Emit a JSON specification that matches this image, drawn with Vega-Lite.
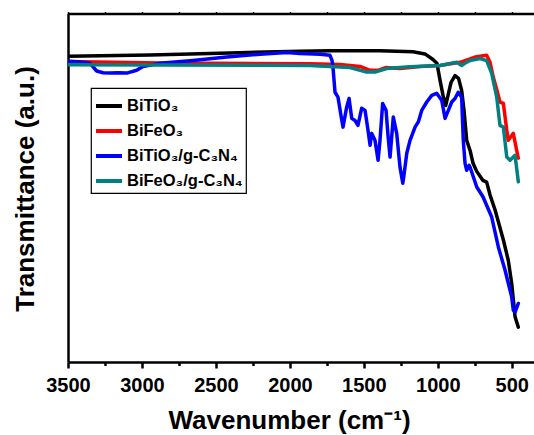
{
  "$schema": "https://vega.github.io/schema/vega-lite/v6.json",
  "width": 466,
  "height": 348.5,
  "autosize": {"type": "none"},
  "padding": {"left": 68, "top": 13.5, "right": 0, "bottom": 73},
  "background": "white",
  "config": {
    "view": {"stroke": null},
    "font": "Liberation Sans",
    "legend": {
      "orient": "none",
      "legendX": 23,
      "legendY": 74.5,
      "strokeColor": "black",
      "strokeWidth": 1.2,
      "fillColor": "white",
      "padding": 3,
      "symbolType": "stroke",
      "symbolSize": 676,
      "symbolStrokeWidth": 4,
      "labelFont": "Liberation Sans",
      "labelFontWeight": "bold",
      "labelFontSize": 16.5,
      "labelColor": "black",
      "labelOffset": 3,
      "labelLimit": 0,
      "rowPadding": 1
    }
  },
  "data": {
    "values": [
      {"s": "BiTiO₃", "wn": 3500, "t": 87.7},
      {"s": "BiTiO₃", "wn": 2946, "t": 88.1},
      {"s": "BiTiO₃", "wn": 2405, "t": 88.7},
      {"s": "BiTiO₃", "wn": 1932, "t": 89.2},
      {"s": "BiTiO₃", "wn": 1729, "t": 89.3},
      {"s": "BiTiO₃", "wn": 1391, "t": 89.3},
      {"s": "BiTiO₃", "wn": 1168, "t": 89.0},
      {"s": "BiTiO₃", "wn": 1087, "t": 88.4},
      {"s": "BiTiO₃", "wn": 1033, "t": 86.8},
      {"s": "BiTiO₃", "wn": 1006, "t": 85.7},
      {"s": "BiTiO₃", "wn": 985, "t": 80.8},
      {"s": "BiTiO₃", "wn": 965, "t": 76.5},
      {"s": "BiTiO₃", "wn": 947, "t": 73.6},
      {"s": "BiTiO₃", "wn": 931, "t": 76.5},
      {"s": "BiTiO₃", "wn": 911, "t": 80.2},
      {"s": "BiTiO₃", "wn": 884, "t": 82.2},
      {"s": "BiTiO₃", "wn": 860, "t": 81.4},
      {"s": "BiTiO₃", "wn": 839, "t": 77.9},
      {"s": "BiTiO₃", "wn": 823, "t": 72.2},
      {"s": "BiTiO₃", "wn": 805, "t": 63.6},
      {"s": "BiTiO₃", "wn": 782, "t": 60.7},
      {"s": "BiTiO₃", "wn": 762, "t": 57.0},
      {"s": "BiTiO₃", "wn": 737, "t": 54.7},
      {"s": "BiTiO₃", "wn": 695, "t": 52.1},
      {"s": "BiTiO₃", "wn": 670, "t": 51.6},
      {"s": "BiTiO₃", "wn": 647, "t": 47.9},
      {"s": "BiTiO₃", "wn": 613, "t": 43.6},
      {"s": "BiTiO₃", "wn": 557, "t": 35.0},
      {"s": "BiTiO₃", "wn": 524, "t": 29.2},
      {"s": "BiTiO₃", "wn": 501, "t": 22.6},
      {"s": "BiTiO₃", "wn": 478, "t": 13.0},
      {"s": "BiTiO₃", "wn": 456, "t": 10.0},

      {"s": "BiFeO₃", "wn": 3500, "t": 86.2},
      {"s": "BiFeO₃", "wn": 2878, "t": 85.8},
      {"s": "BiFeO₃", "wn": 1864, "t": 85.6},
      {"s": "BiFeO₃", "wn": 1661, "t": 85.4},
      {"s": "BiFeO₃", "wn": 1526, "t": 84.8},
      {"s": "BiFeO₃", "wn": 1458, "t": 83.7},
      {"s": "BiFeO₃", "wn": 1404, "t": 83.7},
      {"s": "BiFeO₃", "wn": 1350, "t": 84.5},
      {"s": "BiFeO₃", "wn": 1256, "t": 84.2},
      {"s": "BiFeO₃", "wn": 1120, "t": 84.8},
      {"s": "BiFeO₃", "wn": 985, "t": 85.1},
      {"s": "BiFeO₃", "wn": 850, "t": 86.0},
      {"s": "BiFeO₃", "wn": 749, "t": 87.5},
      {"s": "BiFeO₃", "wn": 670, "t": 88.0},
      {"s": "BiFeO₃", "wn": 647, "t": 86.0},
      {"s": "BiFeO₃", "wn": 625, "t": 81.7},
      {"s": "BiFeO₃", "wn": 600, "t": 77.9},
      {"s": "BiFeO₃", "wn": 580, "t": 74.6},
      {"s": "BiFeO₃", "wn": 557, "t": 74.2},
      {"s": "BiFeO₃", "wn": 534, "t": 66.5},
      {"s": "BiFeO₃", "wn": 524, "t": 63.6},
      {"s": "BiFeO₃", "wn": 509, "t": 64.5},
      {"s": "BiFeO₃", "wn": 490, "t": 65.6},
      {"s": "BiFeO₃", "wn": 467, "t": 60.7},
      {"s": "BiFeO₃", "wn": 456, "t": 58.5},

      {"s": "BiTiO₃/g-C₃N₄", "wn": 3500, "t": 86.3},
      {"s": "BiTiO₃/g-C₃N₄", "wn": 3419, "t": 86.1},
      {"s": "BiTiO₃/g-C₃N₄", "wn": 3351, "t": 85.7},
      {"s": "BiTiO₃/g-C₃N₄", "wn": 3306, "t": 83.5},
      {"s": "BiTiO₃/g-C₃N₄", "wn": 3263, "t": 83.0},
      {"s": "BiTiO₃/g-C₃N₄", "wn": 3216, "t": 82.9},
      {"s": "BiTiO₃/g-C₃N₄", "wn": 3162, "t": 83.0},
      {"s": "BiTiO₃/g-C₃N₄", "wn": 3103, "t": 82.9},
      {"s": "BiTiO₃/g-C₃N₄", "wn": 3036, "t": 83.7},
      {"s": "BiTiO₃/g-C₃N₄", "wn": 2993, "t": 84.8},
      {"s": "BiTiO₃/g-C₃N₄", "wn": 2878, "t": 85.7},
      {"s": "BiTiO₃/g-C₃N₄", "wn": 2655, "t": 86.5},
      {"s": "BiTiO₃/g-C₃N₄", "wn": 2427, "t": 87.5},
      {"s": "BiTiO₃/g-C₃N₄", "wn": 2202, "t": 88.3},
      {"s": "BiTiO₃/g-C₃N₄", "wn": 2020, "t": 88.8},
      {"s": "BiTiO₃/g-C₃N₄", "wn": 1932, "t": 88.5},
      {"s": "BiTiO₃/g-C₃N₄", "wn": 1796, "t": 88.3},
      {"s": "BiTiO₃/g-C₃N₄", "wn": 1729, "t": 88.0},
      {"s": "BiTiO₃/g-C₃N₄", "wn": 1715, "t": 86.5},
      {"s": "BiTiO₃/g-C₃N₄", "wn": 1709, "t": 84.6},
      {"s": "BiTiO₃/g-C₃N₄", "wn": 1695, "t": 77.4},
      {"s": "BiTiO₃/g-C₃N₄", "wn": 1675, "t": 76.0},
      {"s": "BiTiO₃/g-C₃N₄", "wn": 1655, "t": 70.8},
      {"s": "BiTiO₃/g-C₃N₄", "wn": 1641, "t": 67.4},
      {"s": "BiTiO₃/g-C₃N₄", "wn": 1616, "t": 73.2},
      {"s": "BiTiO₃/g-C₃N₄", "wn": 1600, "t": 75.6},
      {"s": "BiTiO₃/g-C₃N₄", "wn": 1582, "t": 69.9},
      {"s": "BiTiO₃/g-C₃N₄", "wn": 1560, "t": 69.3},
      {"s": "BiTiO₃/g-C₃N₄", "wn": 1540, "t": 67.9},
      {"s": "BiTiO₃/g-C₃N₄", "wn": 1515, "t": 72.8},
      {"s": "BiTiO₃/g-C₃N₄", "wn": 1492, "t": 72.2},
      {"s": "BiTiO₃/g-C₃N₄", "wn": 1472, "t": 66.5},
      {"s": "BiTiO₃/g-C₃N₄", "wn": 1458, "t": 62.2},
      {"s": "BiTiO₃/g-C₃N₄", "wn": 1447, "t": 65.6},
      {"s": "BiTiO₃/g-C₃N₄", "wn": 1425, "t": 63.6},
      {"s": "BiTiO₃/g-C₃N₄", "wn": 1404, "t": 57.9},
      {"s": "BiTiO₃/g-C₃N₄", "wn": 1391, "t": 63.6},
      {"s": "BiTiO₃/g-C₃N₄", "wn": 1373, "t": 74.2},
      {"s": "BiTiO₃/g-C₃N₄", "wn": 1350, "t": 72.2},
      {"s": "BiTiO₃/g-C₃N₄", "wn": 1337, "t": 65.0},
      {"s": "BiTiO₃/g-C₃N₄", "wn": 1323, "t": 58.8},
      {"s": "BiTiO₃/g-C₃N₄", "wn": 1301, "t": 70.3},
      {"s": "BiTiO₃/g-C₃N₄", "wn": 1278, "t": 65.6},
      {"s": "BiTiO₃/g-C₃N₄", "wn": 1256, "t": 56.0},
      {"s": "BiTiO₃/g-C₃N₄", "wn": 1237, "t": 51.3},
      {"s": "BiTiO₃/g-C₃N₄", "wn": 1229, "t": 53.6},
      {"s": "BiTiO₃/g-C₃N₄", "wn": 1210, "t": 59.9},
      {"s": "BiTiO₃/g-C₃N₄", "wn": 1188, "t": 63.6},
      {"s": "BiTiO₃/g-C₃N₄", "wn": 1154, "t": 67.4},
      {"s": "BiTiO₃/g-C₃N₄", "wn": 1132, "t": 68.9},
      {"s": "BiTiO₃/g-C₃N₄", "wn": 1109, "t": 72.2},
      {"s": "BiTiO₃/g-C₃N₄", "wn": 1075, "t": 74.6},
      {"s": "BiTiO₃/g-C₃N₄", "wn": 1041, "t": 76.5},
      {"s": "BiTiO₃/g-C₃N₄", "wn": 1008, "t": 77.1},
      {"s": "BiTiO₃/g-C₃N₄", "wn": 974, "t": 75.1},
      {"s": "BiTiO₃/g-C₃N₄", "wn": 951, "t": 69.9},
      {"s": "BiTiO₃/g-C₃N₄", "wn": 929, "t": 72.2},
      {"s": "BiTiO₃/g-C₃N₄", "wn": 906, "t": 74.6},
      {"s": "BiTiO₃/g-C₃N₄", "wn": 884, "t": 75.6},
      {"s": "BiTiO₃/g-C₃N₄", "wn": 862, "t": 77.4},
      {"s": "BiTiO₃/g-C₃N₄", "wn": 839, "t": 76.0},
      {"s": "BiTiO₃/g-C₃N₄", "wn": 828, "t": 63.6},
      {"s": "BiTiO₃/g-C₃N₄", "wn": 816, "t": 57.0},
      {"s": "BiTiO₃/g-C₃N₄", "wn": 805, "t": 55.0},
      {"s": "BiTiO₃/g-C₃N₄", "wn": 789, "t": 56.4},
      {"s": "BiTiO₃/g-C₃N₄", "wn": 782, "t": 55.9},
      {"s": "BiTiO₃/g-C₃N₄", "wn": 737, "t": 50.2},
      {"s": "BiTiO₃/g-C₃N₄", "wn": 695, "t": 47.4},
      {"s": "BiTiO₃/g-C₃N₄", "wn": 636, "t": 41.6},
      {"s": "BiTiO₃/g-C₃N₄", "wn": 591, "t": 33.0},
      {"s": "BiTiO₃/g-C₃N₄", "wn": 546, "t": 26.4},
      {"s": "BiTiO₃/g-C₃N₄", "wn": 501, "t": 18.7},
      {"s": "BiTiO₃/g-C₃N₄", "wn": 490, "t": 14.9},
      {"s": "BiTiO₃/g-C₃N₄", "wn": 478, "t": 14.3},
      {"s": "BiTiO₃/g-C₃N₄", "wn": 456, "t": 16.8},

      {"s": "BiFeO₃/g-C₃N₄", "wn": 3500, "t": 85.3},
      {"s": "BiFeO₃/g-C₃N₄", "wn": 2878, "t": 85.2},
      {"s": "BiFeO₃/g-C₃N₄", "wn": 1864, "t": 85.1},
      {"s": "BiFeO₃/g-C₃N₄", "wn": 1594, "t": 84.5},
      {"s": "BiFeO₃/g-C₃N₄", "wn": 1481, "t": 83.2},
      {"s": "BiFeO₃/g-C₃N₄", "wn": 1425, "t": 83.2},
      {"s": "BiFeO₃/g-C₃N₄", "wn": 1346, "t": 84.2},
      {"s": "BiFeO₃/g-C₃N₄", "wn": 1188, "t": 84.7},
      {"s": "BiFeO₃/g-C₃N₄", "wn": 985, "t": 85.1},
      {"s": "BiFeO₃/g-C₃N₄", "wn": 872, "t": 86.0},
      {"s": "BiFeO₃/g-C₃N₄", "wn": 839, "t": 85.1},
      {"s": "BiFeO₃/g-C₃N₄", "wn": 810, "t": 85.9},
      {"s": "BiFeO₃/g-C₃N₄", "wn": 782, "t": 86.5},
      {"s": "BiFeO₃/g-C₃N₄", "wn": 715, "t": 87.1},
      {"s": "BiFeO₃/g-C₃N₄", "wn": 670, "t": 86.5},
      {"s": "BiFeO₃/g-C₃N₄", "wn": 636, "t": 82.8},
      {"s": "BiFeO₃/g-C₃N₄", "wn": 602, "t": 76.0},
      {"s": "BiFeO₃/g-C₃N₄", "wn": 580, "t": 67.9},
      {"s": "BiFeO₃/g-C₃N₄", "wn": 557, "t": 67.4},
      {"s": "BiFeO₃/g-C₃N₄", "wn": 534, "t": 58.8},
      {"s": "BiFeO₃/g-C₃N₄", "wn": 512, "t": 57.9},
      {"s": "BiFeO₃/g-C₃N₄", "wn": 478, "t": 59.3},
      {"s": "BiFeO₃/g-C₃N₄", "wn": 456, "t": 51.7}
    ]
  },
  "layer": [
    {
      "mark": {"type": "rule", "opacity": 0},
      "encoding": {
        "x": {
          "field": "wn", "type": "quantitative",
          "scale": {"domain": [3500, 350], "nice": false, "zero": false},
          "axis": {
            "orient": "top",
            "values": [3500, 3250, 3000, 2750, 2500, 2250, 2000, 1750, 1500, 1250, 1000, 750, 500],
            "labels": false,
            "tickSize": 2,
            "tickWidth": 1.5,
            "tickColor": "black",
            "domainColor": "black",
            "domainWidth": 2.5,
            "grid": false,
            "title": null
          }
        }
      }
    },
    {
      "mark": {"type": "line", "strokeWidth": 3.5, "strokeJoin": "round", "strokeCap": "round", "clip": true},
      "encoding": {
        "x": {
          "field": "wn", "type": "quantitative",
          "scale": {"domain": [3500, 350], "nice": false, "zero": false},
          "axis": {
            "orient": "bottom",
            "values": [3500, 3250, 3000, 2750, 2500, 2250, 2000, 1750, 1500, 1250, 1000, 750, 500],
            "format": "d",
            "labelExpr": "datum.value % 500 === 0 ? datum.label : ''",
            "tickSize": {"condition": {"test": "datum.value % 500 === 0", "value": 6}, "value": 3.5},
            "tickWidth": 2.5,
            "tickColor": "black",
            "domainColor": "black",
            "domainWidth": 2.5,
            "grid": false,
            "labelFont": "Liberation Sans",
            "labelFontWeight": "bold",
            "labelFontSize": 20,
            "labelColor": "black",
            "labelPadding": 7,
            "labelOverlap": false,
            "labelFlush": false,
            "title": "Wavenumber (cm⁻¹)",
            "titleFont": "Liberation Sans",
            "titleFontWeight": "bold",
            "titleFontSize": 26,
            "titleColor": "black",
            "titleAnchor": null,
            "titleAlign": "center",
            "titleBaseline": "alphabetic",
            "titleX": 221,
            "titleY": 66
          }
        },
        "y": {
          "field": "t", "type": "quantitative",
          "scale": {"domain": [0, 100], "nice": false, "zero": false},
          "axis": {
            "orient": "left",
            "ticks": false,
            "labels": false,
            "grid": false,
            "domainColor": "black",
            "domainWidth": 2.5,
            "title": "Transmittance (a.u.)",
            "titleFont": "Liberation Sans",
            "titleFontWeight": "bold",
            "titleFontSize": 26,
            "titleColor": "black",
            "titleAngle": 270,
            "titleAlign": "center",
            "titleBaseline": "alphabetic",
            "titleX": -35,
            "titleY": 175
          }
        },
        "color": {
          "field": "s", "type": "nominal",
          "scale": {
            "domain": ["BiTiO₃", "BiFeO₃", "BiTiO₃/g-C₃N₄", "BiFeO₃/g-C₃N₄"],
            "range": ["#000000", "#ff0000", "#0000ff", "#008080"]
          },
          "legend": {"title": null}
        }
      }
    }
  ],
  "resolve": {"axis": {"x": "independent"}}
}
